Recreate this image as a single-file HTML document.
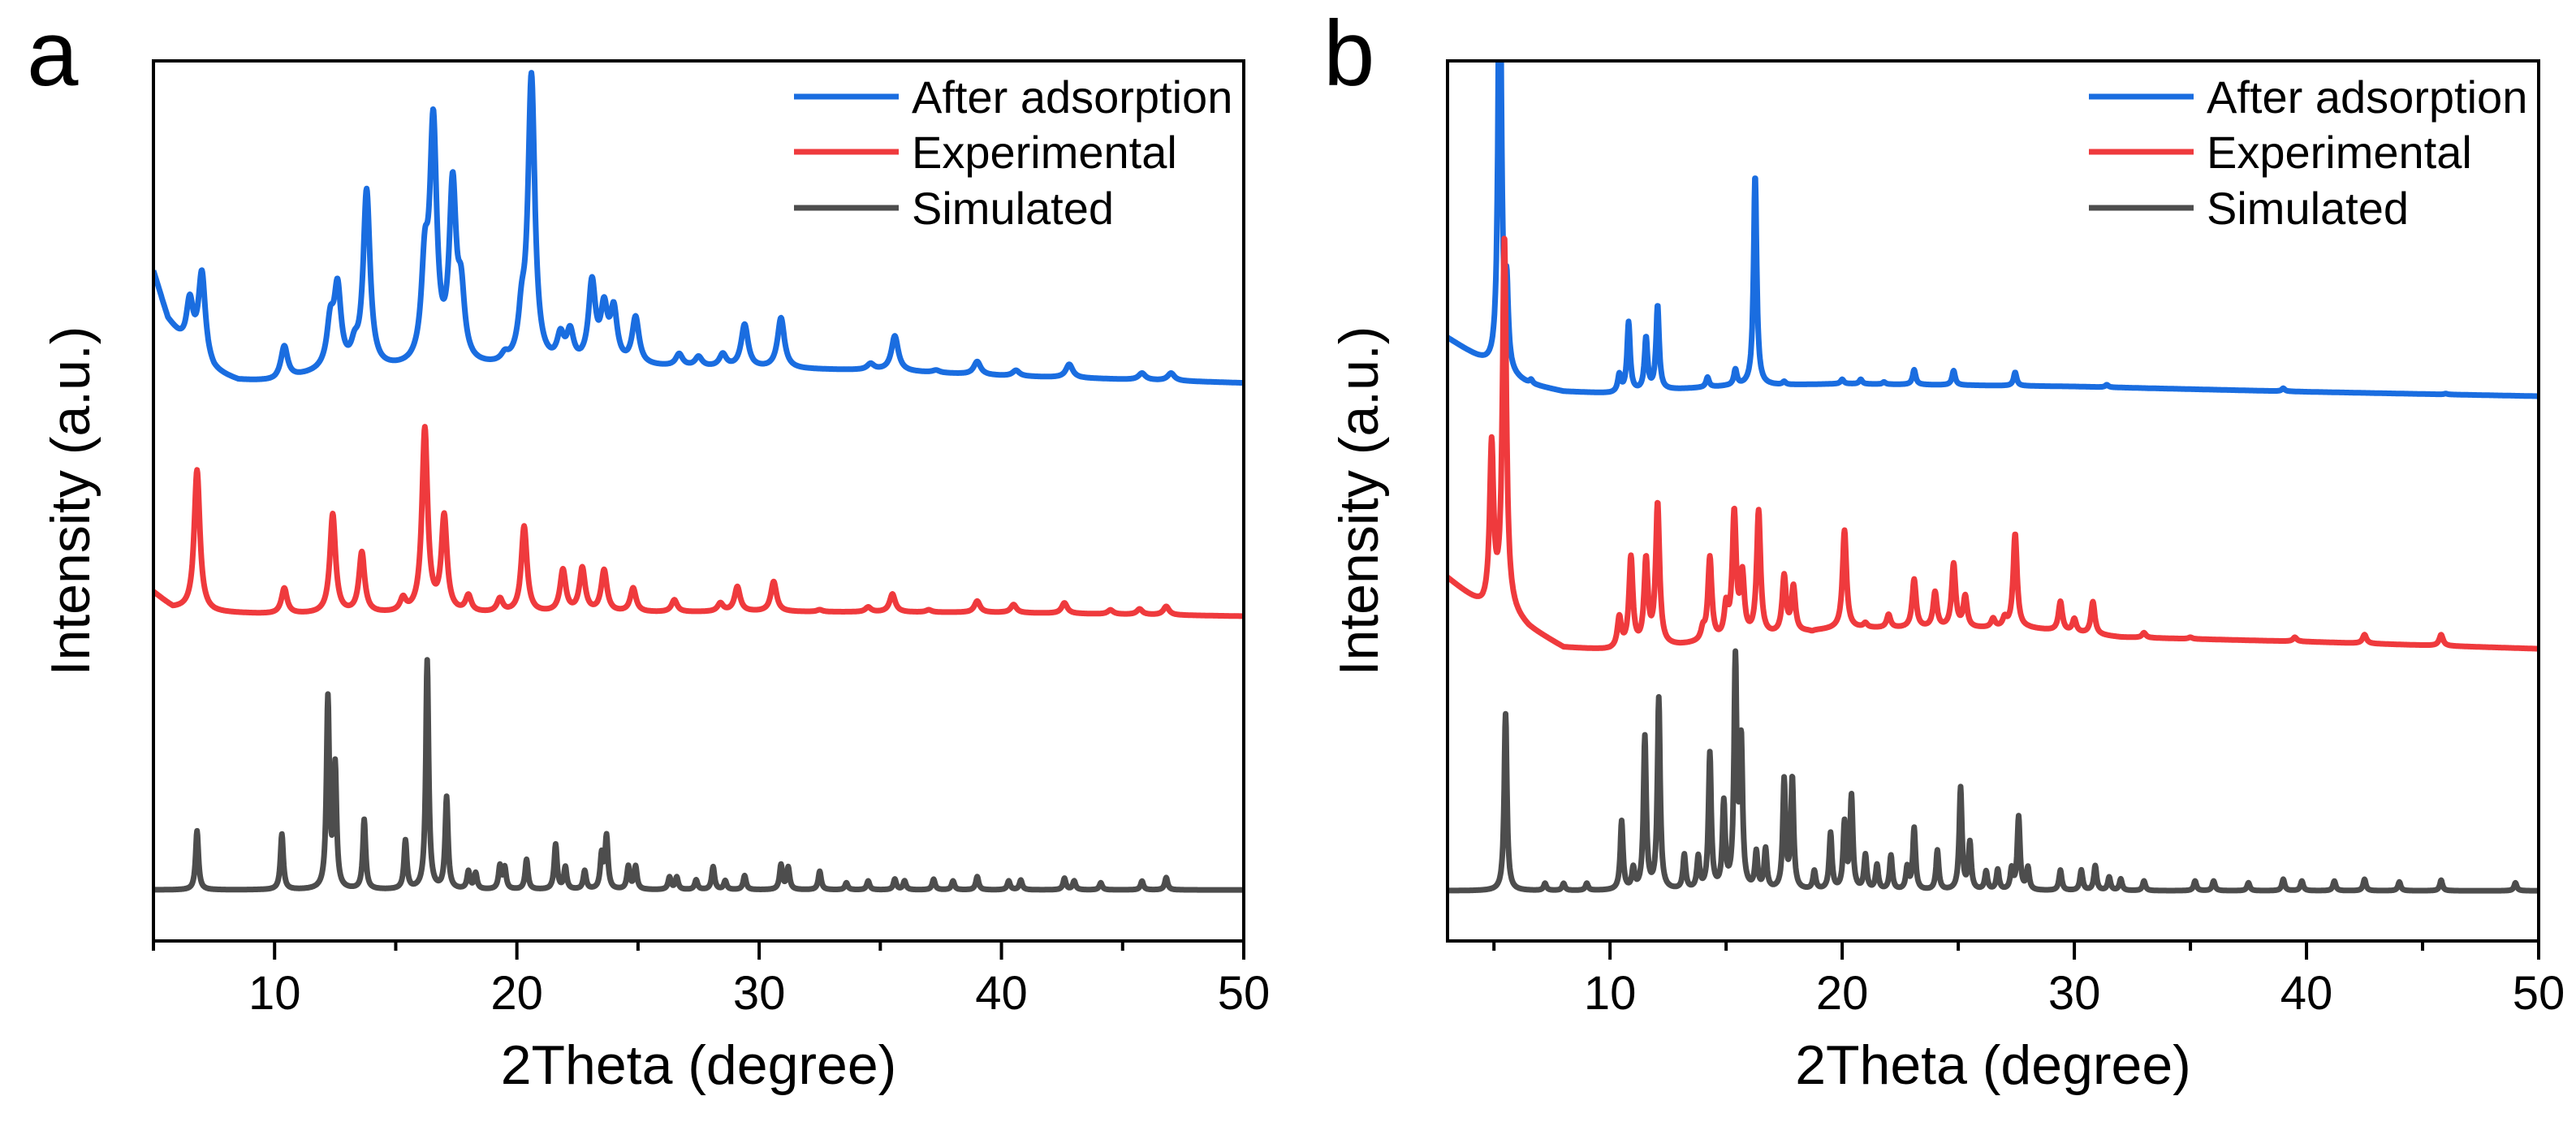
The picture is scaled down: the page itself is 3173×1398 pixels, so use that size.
<!DOCTYPE html>
<html><head><meta charset="utf-8">
<style>
html,body{margin:0;padding:0;background:#fff;}
svg{display:block;font-family:"Liberation Sans",Arial,sans-serif;}
</style></head>
<body>
<svg id="fig" width="3173" height="1398" viewBox="0 0 3173 1398" xmlns="http://www.w3.org/2000/svg">
<defs>
<clipPath id="clipA"><rect x="189" y="75" width="1343" height="1084"/></clipPath>
<clipPath id="clipB"><rect x="1783" y="75" width="1344" height="1084"/></clipPath>
</defs>
<g id="panelA"></g>
<g id="panelB"></g>
</svg>
<script>
// ---------- Panel a data ----------
const aSimBaseX = [5, 50];
const aSimBaseY = [5.8, 5.8];
const aSimPeakPos = [6.8,10.3,12.2,12.5,13.7,15.4,16.3,17.1,18.0,18.3,19.3,19.5,20.4,21.6,22.0,22.8,23.5,23.7,24.6,24.9,26.3,26.6,27.4,28.1,28.6,29.4,30.9,31.2,32.5,33.6,34.5,35.6,36.0,37.2,38.0,39.0,40.3,40.8,42.6,43.0,44.1,45.8,46.8];
const aSimPeakH = [12.5,12.1,27.3,19.5,13.7,11.3,31.8,16.2,7.8,7.6,8.4,8.2,9.2,10.9,8.3,7.9,9.6,11.7,8.4,8.4,7.2,7.2,6.9,8.4,6.8,7.4,8.6,8.3,7.9,6.6,6.8,7.0,6.8,7.0,6.8,7.3,6.8,6.9,7.1,6.8,6.6,6.8,7.2];

const aExpBaseX = [5, 5.8, 7.5, 10, 20, 30, 40, 50];
const aExpBaseY = [39.6, 37.8, 37.3, 37.1, 37.2, 37.4, 37.3, 36.9];
const aExpPeakPos = [6.8,10.4,12.4,13.6,15.3,16.2,17.0,18.0,19.3,20.3,21.9,22.7,23.6,24.8,26.5,28.4,29.1,30.6,32.5,34.5,35.5,37.0,39.0,40.5,42.6,44.5,45.7,46.8];
const aExpPeakH = [53.5,40.0,48.4,44.0,38.6,58.0,47.9,39.0,38.7,47.0,42.0,42.2,42.0,40.0,38.7,38.3,40.2,40.8,37.6,37.9,39.4,37.6,38.6,38.2,38.4,37.6,37.7,38.0];

const aAdsBaseX = [5, 5.6, 6.3, 7.5, 8.5, 10, 12, 15, 18, 20, 25, 30, 35, 40, 45, 50];
const aAdsBaseY = [76.0, 70.5, 67.5, 64.5, 63.6, 63.5, 64.5, 64.8, 65.0, 65.0, 65.2, 65.0, 64.8, 64.2, 63.8, 63.4];
const aAdsPeakPos = [6.5,7.0,10.4,12.3,12.6,13.3,13.8,16.2,16.55,17.35,17.7,19.5,20.2,20.6,21.8,22.2,23.1,23.6,24.0,24.9,26.7,27.5,28.5,29.4,30.9,34.6,35.6,37.3,39.0,40.6,42.8,45.8,47.0];
const aAdsPeakH = [72.4,75.6,67.4,69.5,73.4,66.5,84.8,75.0,91.4,84.5,72.0,65.8,69.5,97.6,68.0,68.5,74.2,71.0,71.0,70.5,66.5,66.2,66.5,69.9,70.7,65.5,68.7,64.8,65.8,64.8,65.5,64.5,64.5];

// ---------- Panel b data ----------
const bSimBaseX = [3, 50];
const bSimBaseY = [5.7, 5.7];
const bSimPeakPos = [5.5,7.2,8.0,9.0,10.5,11.0,11.5,12.1,13.2,13.8,14.3,14.9,15.4,15.65,16.3,16.7,17.5,17.85,18.8,19.5,20.1,20.4,21.0,21.5,22.1,22.8,23.1,24.1,25.1,25.5,26.2,26.7,27.3,27.6,28.0,29.4,30.3,30.9,31.5,32.0,33.0,35.2,36.0,37.5,39.0,39.8,41.2,42.5,44.0,45.8,49.0];
const bSimPeakH = [25.8,6.5,6.5,6.5,13.5,8.0,23.0,27.4,9.6,9.3,21.1,15.3,31.4,22.0,9.8,10.2,18.0,18.3,7.8,12.1,13.1,16.2,9.6,8.5,9.6,8.2,12.7,10.2,17.3,11.0,7.8,8.0,8.0,14.0,8.2,8.0,8.0,8.5,7.2,7.0,6.8,6.8,6.8,6.6,7.0,6.8,6.8,7.0,6.7,6.9,6.6];

const bExpBaseX = [3, 4.5, 5.8, 6.5, 8, 10, 13, 20, 28, 32, 40, 50];
const bExpBaseY = [41.2, 37.9, 37.0, 35.5, 33.3, 33.0, 33.5, 35.5, 35.5, 34.5, 34.0, 33.2];
const bExpPeakPos = [4.9,5.45,10.4,10.9,11.55,12.05,14.0,14.3,15.0,15.35,15.7,16.4,17.5,17.9,18.7,20.1,21.0,22.0,23.1,24.0,24.8,25.3,26.5,27.0,27.45,29.4,30.0,30.8,33.0,35.0,39.5,42.5,45.8];
const bExpPeakH = [55.9,79.6,36.5,43.3,42.9,49.4,35.0,43.3,37.5,48.2,41.0,48.6,41.2,40.0,35.0,46.6,36.0,37.0,41.0,39.5,42.7,39.0,36.5,36.5,46.2,38.5,36.5,38.5,35.0,34.5,34.5,34.8,34.8];

const bAdsBaseX = [3, 4.9, 5.7, 6.5, 8, 10, 15, 20, 30, 40, 50];
const bAdsBaseY = [68.5, 65.2, 64.0, 63.2, 62.4, 62.2, 63.0, 63.3, 63.0, 62.4, 61.9];
const bAdsPeakPos = [5.25,5.55,6.6,10.4,10.8,11.55,12.05,14.2,15.4,16.25,17.5,20.0,20.8,21.8,23.1,24.8,27.45,31.4,33.2,39.0,46.0];
const bAdsPeakH = [120,72.9,63.6,64.2,70.2,68.4,72.1,64.0,64.8,87.0,63.5,63.8,63.8,63.5,64.9,64.8,64.6,63.2,62.8,62.8,62.2];

const legendLabels = ["After adsorption","Experimental","Simulated"];
const xTicksA = [10,20,30,40,50];
const xTicksB = [10,20,30,40,50];

const NS = "http://www.w3.org/2000/svg";
const COLORS = ["#1a6de0","#ef3a3d","#4d4d4d"];

function mk(tag, attrs, parent){
  const e = document.createElementNS(NS, tag);
  for (const k in attrs) e.setAttribute(k, attrs[k]);
  if (parent) parent.appendChild(e);
  return e;
}
function interp(xs, ys, x){
  if (x <= xs[0]) return ys[0];
  for (let i=1;i<xs.length;i++){
    if (x <= xs[i]){ const t=(x-xs[i-1])/(xs[i]-xs[i-1]); return ys[i-1]+t*(ys[i]-ys[i-1]); }
  }
  return ys[ys.length-1];
}
function curve(baseX, baseY, pos, h, w, x){
  let v = interp(baseX, baseY, x);
  for (let i=0;i<pos.length;i++){
    const amp = h[i] - interp(baseX, baseY, pos[i]);
    const d = (x-pos[i])/w;
    v += amp/(1+d*d);
  }
  return v;
}

function panel(g, cfg){
  const L=cfg.left, R=cfg.right, T=75, B=1159;
  const xs = v => L + (v-cfg.xmin)/(cfg.xmax-cfg.xmin)*(R-L);
  const ys = v => B - v/100*(B-T);
  cfg.series.forEach((s, si) => {
    let d = "";
    for (let x=cfg.xmin; x<=cfg.xmax+1e-9; x+=0.02){
      const v = curve(s.bx, s.by, s.pos, s.h, s.w, x);
      d += (d?"L":"M") + xs(x).toFixed(1) + " " + ys(v).toFixed(1);
    }
    const p = mk("path", {d:d, fill:"none", stroke:COLORS[si], "stroke-width":7, "stroke-linejoin":"round", "clip-path":"url(#"+cfg.clip+")"}, g);
    
    
  });
  const fr = mk("rect", {x:L, y:T, width:R-L, height:B-T, fill:"none", stroke:"#000", "stroke-width":4}, g);
  
  
  for (let t=5; t<=50; t+=5){
    if (t < cfg.xmin) continue;
    const major = cfg.ticks.indexOf(t) >= 0;
    const tk = mk("line", {x1:xs(t), x2:xs(t), y1:B, y2:B+(major?23:12), stroke:"#000", "stroke-width":4}, g);
    
    
  }
  cfg.ticks.forEach(t => {
    const tl = mk("text", {x:xs(t), y:1243, "font-size":58, "text-anchor":"middle", fill:"#000"}, g);
    tl.textContent = t;
    
    
  });
  const xt = mk("text", {x:(L+R)/2, y:1335, "font-size":68, "text-anchor":"middle", fill:"#000"}, g);
  xt.textContent = "2Theta (degree)";
  
  
  const yt = mk("text", {x:0, y:0, "font-size":68, "text-anchor":"middle", fill:"#000", transform:"translate("+(cfg.ytx)+",617) rotate(-90)"}, g);
  yt.textContent = "Intensity (a.u.)";
  
  
  const pl = mk("text", {x:cfg.letterX, y:105, "font-size":114, fill:"#000"}, g);
  pl.textContent = cfg.letter;
  
  
  const rowsY = [119,187,256];
  legendLabels.forEach((lab, i) => {
    const lg = mk("g", {}, g);
    
    
    mk("line", {x1:cfg.legX, x2:cfg.legX+129, y1:rowsY[i], y2:rowsY[i], stroke:COLORS[i], "stroke-width":7}, lg);
    const tx = mk("text", {x:cfg.legX+145, y:rowsY[i]+20, "font-size":56, fill:"#000"}, lg);
    tx.textContent = lab;
  });
}

panel(document.getElementById("panelA"), {
  left:189, right:1532, xmin:5, xmax:50, ticks:xTicksA, clip:"clipA", ytx:110, letter:"a", letterX:33, legX:978,
  series:[
    {name:"after-adsorption-line", bx:aAdsBaseX, by:aAdsBaseY, pos:aAdsPeakPos, h:aAdsPeakH, w:0.17},
    {name:"experimental-line", bx:aExpBaseX, by:aExpBaseY, pos:aExpPeakPos, h:aExpPeakH, w:0.14},
    {name:"simulated-line", bx:aSimBaseX, by:aSimBaseY, pos:aSimPeakPos, h:aSimPeakH, w:0.07}
  ]
});
panel(document.getElementById("panelB"), {
  left:1783, right:3127, xmin:3, xmax:50, ticks:xTicksB, clip:"clipB", ytx:1697, letter:"b", letterX:1630, legX:2573,
  series:[
    {name:"after-adsorption-line", bx:bAdsBaseX, by:bAdsBaseY, pos:bAdsPeakPos, h:bAdsPeakH, w:0.08},
    {name:"experimental-line", bx:bExpBaseX, by:bExpBaseY, pos:bExpPeakPos, h:bExpPeakH, w:0.1},
    {name:"simulated-line", bx:bSimBaseX, by:bSimBaseY, pos:bSimPeakPos, h:bSimPeakH, w:0.07}
  ]
});
</script>
</body></html>
